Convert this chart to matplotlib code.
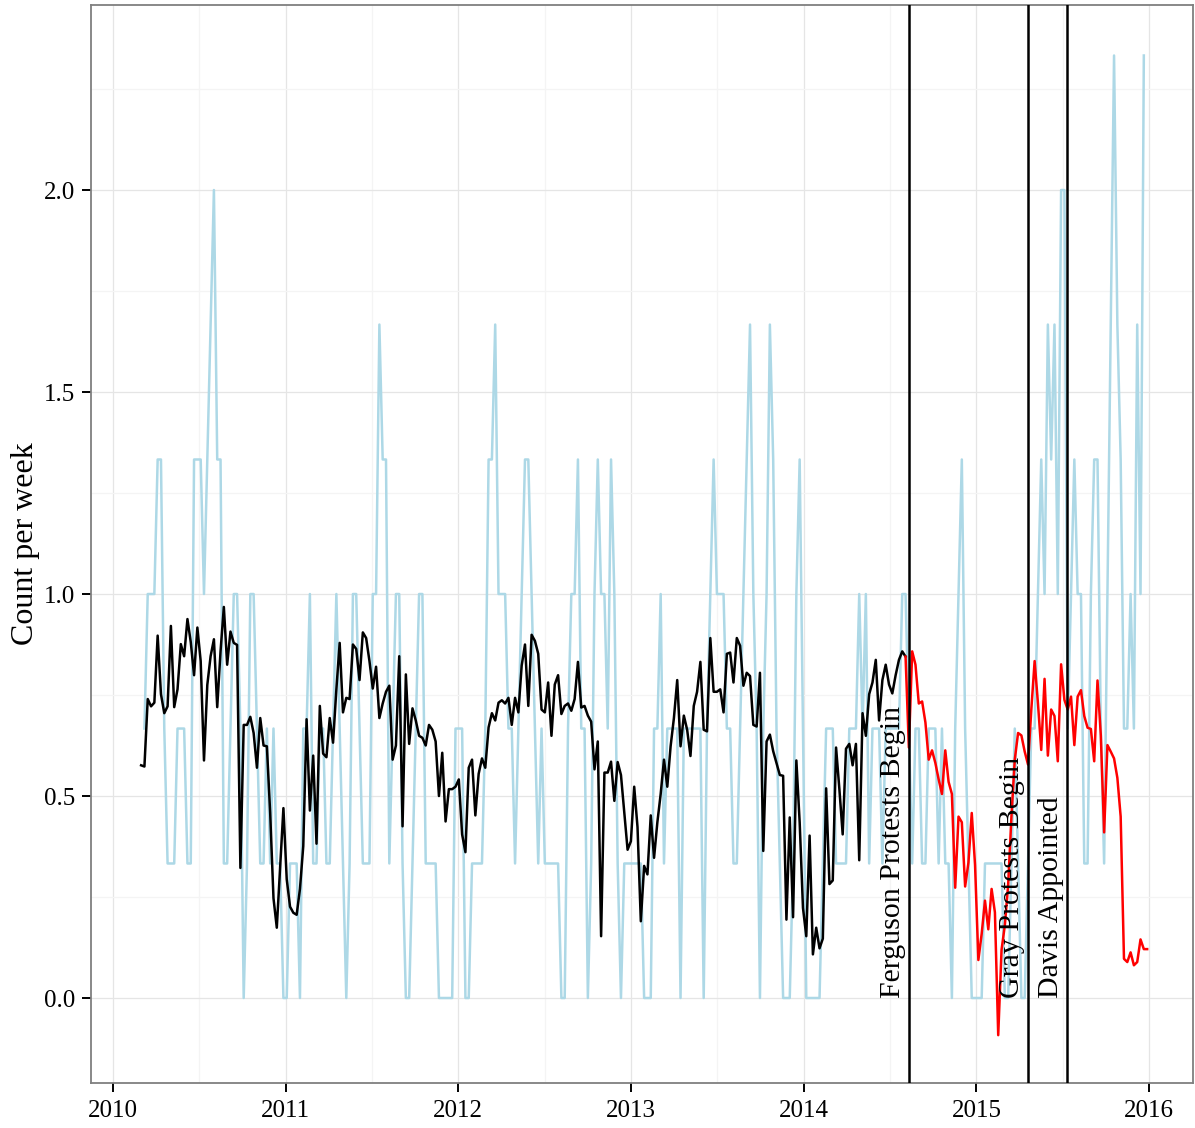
import numpy as np
import pandas as pd
import matplotlib
matplotlib.use("Agg")
import matplotlib.pyplot as plt
import matplotlib.dates as mdates

# ---------------- data ----------------
start_date = "2010-03-01"
n_weeks = 305

# weekly observed count (3-week mean), light blue
observed = [
    None, 0.667, 1.0, 1.0, 1.0, 1.333, 1.333, 0.667, 0.333, 0.333,
    0.333, 0.667, 0.667, 0.667, 0.333, 0.333, 1.333, 1.333, 1.333, 1.0,
    1.333, 1.667, 2.0, 1.333, 1.333, 0.333, 0.333, 0.667, 1.0, 1.0,
    0.667, 0.0, 0.333, 1.0, 1.0, 0.667, 0.333, 0.333, 0.667, 0.333,
    0.667, 0.333, 0.333, 0.0, 0.0, 0.333, 0.333, 0.333, 0.0, 0.667,
    0.667, 1.0, 0.333, 0.333, 0.667, 0.667, 0.333, 0.333, 0.667, 1.0,
    0.667, 0.333, 0.0, 0.333, 1.0, 1.0, 0.667, 0.333, 0.333, 0.333,
    1.0, 1.0, 1.667, 1.333, 1.333, 0.333, 0.667, 1.0, 1.0, 0.333,
    0.0, 0.0, 0.333, 0.667, 1.0, 1.0, 0.333, 0.333, 0.333, 0.333,
    0.0, 0.0, 0.0, 0.0, 0.0, 0.667, 0.667, 0.667, 0.0, 0.0,
    0.333, 0.333, 0.333, 0.333, 0.667, 1.333, 1.333, 1.667, 1.0, 1.0,
    1.0, 0.667, 0.667, 0.333, 0.667, 1.0, 1.333, 1.333, 1.0, 0.667,
    0.333, 0.667, 0.333, 0.333, 0.333, 0.333, 0.333, 0.0, 0.0, 0.667,
    1.0, 1.0, 1.333, 0.667, 0.667, 0.0, 0.333, 1.0, 1.333, 1.0,
    1.0, 0.667, 1.333, 1.0, 0.333, 0.0, 0.333, 0.333, 0.333, 0.333,
    0.333, 0.333, 0.0, 0.0, 0.0, 0.667, 0.667, 1.0, 0.333, 0.667,
    0.667, 0.667, 0.667, 0.0, 0.667, 0.667, 0.667, 0.667, 0.667, 0.667,
    0.0, 0.667, 1.0, 1.333, 1.0, 1.0, 1.0, 0.667, 0.667, 0.333,
    0.333, 0.667, 1.0, 1.333, 1.667, 1.0, 0.667, 0.0, 0.667, 1.0,
    1.667, 1.333, 0.667, 0.333, 0.0, 0.0, 0.0, 0.333, 1.0, 1.333,
    0.667, 0.0, 0.0, 0.0, 0.0, 0.0, 0.333, 0.667, 0.667, 0.667,
    0.333, 0.333, 0.333, 0.333, 0.667, 0.667, 0.667, 1.0, 0.667, 1.0,
    0.333, 0.667, 0.667, 0.667, 0.333, 0.667, 0.667, 0.667, 0.667, 0.667,
    1.0, 1.0, 0.667, 0.333, 0.667, 0.667, 0.333, 0.333, 0.667, 0.667,
    0.667, 0.333, 0.667, 0.333, 0.333, 0.0, 0.667, 1.0, 1.333, 0.667,
    0.333, 0.0, 0.0, 0.0, 0.0, 0.333, 0.333, 0.333, 0.333, 0.333,
    0.333, 0.0, 0.0, 0.333, 0.667, 0.333, 0.0, 0.0, 0.333, 0.667,
    0.667, 1.0, 1.333, 1.0, 1.667, 1.333, 1.667, 1.0, 2.0, 2.0,
    0.667, 1.0, 1.333, 1.0, 1.0, 0.333, 0.333, 1.0, 1.333, 1.333,
    0.667, 0.333, 1.0, 1.667, 2.333, 1.667, 1.333, 0.667, 0.667, 1.0,
    0.667, 1.667, 1.0, 2.333, None,
]

# fitted series before Ferguson (black), weeks 0..231
fit_before = [
    0.576, 0.573, 0.740, 0.722, 0.731, 0.897, 0.752, 0.705, 0.722, 0.921,
    0.720, 0.764, 0.876, 0.846, 0.938, 0.881, 0.799, 0.917, 0.834, 0.588,
    0.775, 0.846, 0.888, 0.720, 0.858, 0.968, 0.825, 0.907, 0.879, 0.874,
    0.322, 0.676, 0.676, 0.696, 0.656, 0.570, 0.693, 0.625, 0.623, 0.458,
    0.247, 0.174, 0.323, 0.470, 0.294, 0.226, 0.211, 0.206, 0.270, 0.376,
    0.690, 0.464, 0.600, 0.382, 0.723, 0.605, 0.596, 0.693, 0.632, 0.764,
    0.879, 0.707, 0.743, 0.740, 0.875, 0.864, 0.787, 0.905, 0.891, 0.834,
    0.766, 0.820, 0.693, 0.729, 0.758, 0.773, 0.590, 0.625, 0.846, 0.425,
    0.801, 0.629, 0.717, 0.687, 0.649, 0.644, 0.625, 0.676, 0.664, 0.635,
    0.500, 0.607, 0.437, 0.517, 0.517, 0.523, 0.541, 0.405, 0.361, 0.570,
    0.590, 0.452, 0.555, 0.593, 0.570, 0.670, 0.705, 0.687, 0.731, 0.737,
    0.729, 0.743, 0.676, 0.743, 0.707, 0.823, 0.875, 0.723, 0.899, 0.884,
    0.852, 0.714, 0.707, 0.781, 0.649, 0.776, 0.799, 0.703, 0.723, 0.729,
    0.711, 0.740, 0.832, 0.719, 0.723, 0.699, 0.684, 0.566, 0.635, 0.153,
    0.558, 0.558, 0.585, 0.488, 0.584, 0.552, 0.458, 0.367, 0.388, 0.523,
    0.423, 0.190, 0.327, 0.306, 0.452, 0.347, 0.435, 0.505, 0.590, 0.523,
    0.623, 0.693, 0.787, 0.623, 0.699, 0.664, 0.599, 0.723, 0.758, 0.832,
    0.664, 0.660, 0.891, 0.758, 0.758, 0.764, 0.707, 0.852, 0.855, 0.781,
    0.891, 0.872, 0.773, 0.805, 0.797, 0.676, 0.672, 0.805, 0.364, 0.635,
    0.652, 0.611, 0.582, 0.552, 0.550, 0.194, 0.447, 0.200, 0.588, 0.435,
    0.223, 0.153, 0.402, 0.108, 0.174, 0.123, 0.147, 0.519, 0.282, 0.291,
    0.620, 0.517, 0.405, 0.617, 0.629, 0.576, 0.629, 0.341, 0.705, 0.649,
    0.752, 0.781, 0.837, 0.687, 0.787, 0.825, 0.776, 0.754, 0.799, 0.837,
    0.858, 0.845,
]

# fitted series after Ferguson (red), weeks 231..304
fit_after = [
    0.845, 0.620, 0.858, 0.825, 0.729, 0.734, 0.682, 0.590, 0.613, 0.582,
    0.541, 0.505, 0.613, 0.535, 0.505, 0.273, 0.449, 0.435, 0.276, 0.335,
    0.458, 0.329, 0.094, 0.159, 0.241, 0.170, 0.270, 0.212, -0.092, 0.119,
    0.180, 0.280, 0.450, 0.590, 0.656, 0.650, 0.610, 0.578, 0.714, 0.834,
    0.730, 0.614, 0.790, 0.600, 0.714, 0.698, 0.586, 0.826, 0.738, 0.714,
    0.746, 0.626, 0.746, 0.762, 0.698, 0.669, 0.666, 0.586, 0.786, 0.650,
    0.410, 0.626, 0.610, 0.593, 0.545, 0.449, 0.097, 0.089, 0.113, 0.081,
    0.089, 0.145, 0.121, 0.121,
]

events = ["Ferguson Protests Begin", "Gray Protests Begin", "Davis Appointed"]
event_dates = ["2014-08-11", "2015-04-20", "2015-07-12"]

y_ticks = [0.0, 0.5, 1.0, 1.5, 2.0]
y_tick_labels = ["0.0", "0.5", "1.0", "1.5", "2.0"]
x_tick_years = [2010, 2011, 2012, 2013, 2014, 2015, 2016]
y_label = "Count per week"

# ---------------- plot ----------------
dates = pd.date_range(start_date, periods=n_weeks, freq="7D")
obs = np.array([np.nan if v is None else v for v in observed], dtype=float)
split = len(fit_before) - 1
d_before = dates[: len(fit_before)]
d_after = dates[split: split + len(fit_after)]

serif = ["Liberation Serif", "DejaVu Serif"]
plt.rcParams["font.family"] = serif

fig = plt.figure(figsize=(11.95, 11.28), dpi=100)
ax = fig.add_axes([91 / 1195, 45 / 1128, 1102 / 1195, 1078 / 1128])

ax.plot(dates, obs, color="#ADD8E6", lw=1.8, zorder=2)
ax.plot(d_before, fit_before, color="black", lw=1.8, zorder=3)
ax.plot(d_after, fit_after, color="red", lw=1.8, zorder=3)

for name, d in zip(events, event_dates):
    dt = pd.Timestamp(d)
    ax.axvline(dt, color="black", lw=1.8, zorder=4)
    ax.annotate(name, xy=(dt, 0.0), xytext=(-2, 0), textcoords="offset points",
                rotation=90, ha="right", va="bottom", fontsize=21.5,
                color="black", zorder=5)

ax.set_xlim(pd.Timestamp("2009-11-15"), pd.Timestamp("2016-04-03"))
ax.set_ylim(-0.2104, 2.458)

ax.xaxis.set_major_locator(mdates.YearLocator())
ax.xaxis.set_major_formatter(mdates.DateFormatter("%Y"))
ax.set_xticks([pd.Timestamp(f"{y}-07-02") for y in x_tick_years[:-1]], minor=True)
ax.set_yticks(y_ticks)
ax.set_yticklabels(y_tick_labels)
ax.set_yticks(np.arange(0.25, 2.4, 0.5), minor=True)

ax.grid(which="major", color="#E5E5E5", lw=0.9, zorder=0)
ax.grid(which="minor", color="#F4F4F4", lw=0.9, zorder=0)
ax.set_axisbelow(True)

for s in ax.spines.values():
    s.set_color("#7F7F7F")
    s.set_linewidth(1.3)

ax.tick_params(which="major", direction="out", length=6.5, width=1.4,
               color="black", labelsize=18, labelcolor="black")
ax.tick_params(axis="x", which="major", pad=6)
ax.tick_params(axis="y", which="major", pad=5)
ax.tick_params(which="minor", length=0)

ax.set_ylabel(y_label, fontsize=23)
ax.yaxis.set_label_coords(-0.046, 0.5)

fig.savefig("out.png", dpi=100)
